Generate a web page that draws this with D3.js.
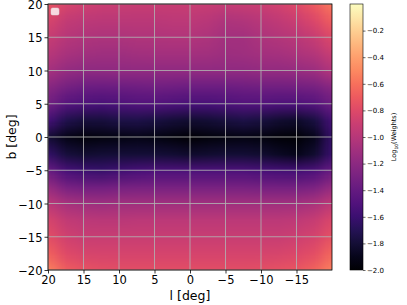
<!DOCTYPE html>
<html><head><meta charset="utf-8">
<script src="https://cdn.jsdelivr.net/npm/d3@7"></script>
<style>body{margin:0;background:#fff;} svg{font-family:"DejaVu Sans",sans-serif;}</style>
</head><body>
<svg id="c" width="407" height="305"></svg>
<script>
// Data
const lValues = [20, 17.5, 15, 12.5, 10, 7.5, 5, 2.5, 0, -2.5, -5, -7.5, -10, -12.5, -15, -17.5, -20];
const bValues = [20, 17.5, 15, 12.5, 10, 7.5, 5, 2.5, 0, -2.5, -5, -7.5, -10, -12.5, -15, -17.5, -20];
const logWeights = [
 [-0.74,-0.84,-0.88,-0.90,-0.91,-0.92,-0.92,-0.92,-0.91,-0.92,-0.93,-0.92,-0.90,-0.86,-0.80,-0.70,-0.56],
 [-0.84,-0.94,-0.97,-0.98,-0.98,-0.98,-0.98,-0.97,-0.97,-0.99,-1.04,-1.03,-0.99,-0.95,-0.90,-0.82,-0.68],
 [-0.92,-1.00,-1.03,-1.04,-1.04,-1.03,-1.03,-1.02,-1.02,-1.04,-1.09,-1.09,-1.04,-1.01,-0.98,-0.92,-0.80],
 [-0.99,-1.07,-1.10,-1.11,-1.11,-1.10,-1.09,-1.09,-1.09,-1.10,-1.12,-1.11,-1.09,-1.08,-1.05,-1.01,-0.91],
 [-1.08,-1.16,-1.19,-1.19,-1.18,-1.18,-1.18,-1.18,-1.18,-1.18,-1.18,-1.18,-1.17,-1.17,-1.15,-1.12,-1.02],
 [-1.22,-1.32,-1.36,-1.37,-1.36,-1.35,-1.34,-1.35,-1.36,-1.36,-1.36,-1.35,-1.34,-1.34,-1.33,-1.31,-1.22],
 [-1.34,-1.48,-1.52,-1.54,-1.52,-1.50,-1.50,-1.52,-1.54,-1.54,-1.52,-1.50,-1.50,-1.52,-1.52,-1.48,-1.36],
 [-1.55,-1.72,-1.78,-1.78,-1.75,-1.74,-1.76,-1.79,-1.82,-1.80,-1.77,-1.75,-1.77,-1.82,-1.84,-1.76,-1.54],
 [-1.80,-1.92,-1.96,-1.94,-1.93,-1.92,-1.93,-1.96,-1.99,-1.96,-1.94,-1.93,-1.94,-1.97,-1.98,-1.90,-1.62],
 [-1.64,-1.78,-1.82,-1.80,-1.79,-1.79,-1.79,-1.81,-1.83,-1.82,-1.80,-1.80,-1.82,-1.86,-1.90,-1.82,-1.60],
 [-1.38,-1.54,-1.60,-1.62,-1.58,-1.54,-1.52,-1.52,-1.52,-1.52,-1.52,-1.52,-1.54,-1.56,-1.57,-1.52,-1.38],
 [-1.15,-1.29,-1.33,-1.33,-1.31,-1.30,-1.30,-1.30,-1.30,-1.30,-1.30,-1.30,-1.31,-1.32,-1.32,-1.28,-1.15],
 [-0.97,-1.07,-1.10,-1.11,-1.10,-1.10,-1.10,-1.10,-1.10,-1.10,-1.10,-1.10,-1.10,-1.10,-1.09,-1.05,-0.95],
 [-0.84,-0.94,-0.97,-0.98,-0.98,-0.97,-0.97,-0.97,-0.97,-0.97,-0.97,-0.97,-0.97,-0.97,-0.96,-0.92,-0.82],
 [-0.77,-0.87,-0.91,-0.91,-0.91,-0.91,-0.91,-0.91,-0.91,-0.91,-0.91,-0.91,-0.91,-0.91,-0.89,-0.85,-0.75],
 [-0.67,-0.80,-0.84,-0.85,-0.85,-0.85,-0.85,-0.85,-0.85,-0.85,-0.85,-0.85,-0.85,-0.84,-0.82,-0.77,-0.64],
 [-0.52,-0.68,-0.74,-0.76,-0.77,-0.77,-0.77,-0.77,-0.77,-0.77,-0.77,-0.77,-0.76,-0.75,-0.72,-0.65,-0.52]
];
const xTicks = [20, 15, 10, 5, 0, -5, -10, -15];
const yTicks = [-20, -15, -10, -5, 0, 5, 10, 15, 20];
const cbTicks = [-2.0, -1.8, -1.6, -1.4, -1.2, -1.0, -0.8, -0.6, -0.4, -0.2];

const svg = d3.select("#c");
const P = {l: 48, r: 332, t: 4, b: 270};
const x = d3.scaleLinear().domain([20, -20]).range([P.l, P.r]);
const y = d3.scaleLinear().domain([-20, 20]).range([P.b, P.t]);
const color = d3.scaleSequential(d3.interpolateMagma).domain([-2, 0]);

// raster
const nC = lValues.length, nR = bValues.length;
const cv = document.createElement("canvas");
cv.width = nC; cv.height = nR;
const ctx = cv.getContext("2d");
logWeights.forEach((row, j) => row.forEach((v, i) => {
  ctx.fillStyle = color(v); ctx.fillRect(i, j, 1, 1);
}));
const dl = (lValues[0] - lValues[1]) / 2, db = (bValues[0] - bValues[1]) / 2;
svg.append("clipPath").attr("id", "clip").append("rect")
  .attr("x", P.l).attr("y", P.t).attr("width", P.r - P.l).attr("height", P.b - P.t);
svg.append("g").attr("clip-path", "url(#clip)").append("image")
  .attr("href", cv.toDataURL())
  .attr("x", x(lValues[0] + dl)).attr("y", y(bValues[0] + db))
  .attr("width", x(lValues[nC - 1] - dl) - x(lValues[0] + dl))
  .attr("height", y(bValues[nR - 1] - db) - y(bValues[0] + db))
  .attr("preserveAspectRatio", "none")
  .style("image-rendering", "auto");

// grid
const grid = svg.append("g").attr("stroke", "#b0b0b0").attr("stroke-opacity", 0.85).attr("stroke-width", 1);
grid.selectAll(".gx").data(xTicks).join("line")
  .attr("x1", d => x(d)).attr("x2", d => x(d)).attr("y1", P.t).attr("y2", P.b);
grid.selectAll(".gy").data(yTicks).join("line")
  .attr("y1", d => y(d)).attr("y2", d => y(d)).attr("x1", P.l).attr("x2", P.r);

// frame
svg.append("rect").attr("x", P.l).attr("y", P.t).attr("width", P.r - P.l).attr("height", P.b - P.t)
  .attr("fill", "none").attr("stroke", "#000").attr("stroke-width", 0.8);

// legend (empty)
svg.append("rect").attr("x", 51).attr("y", 8).attr("width", 8).attr("height", 7).attr("rx", 1.5)
  .attr("fill", "#fff").attr("fill-opacity", 0.8).attr("stroke", "#ddd").attr("stroke-width", 0.5);

// axes
const fmt = d3.format("d");
const xa = svg.append("g").attr("transform", `translate(0,${P.b})`)
  .call(d3.axisBottom(x).tickValues(xTicks).tickFormat(fmt).tickSize(3.5).tickPadding(2));
const ya = svg.append("g").attr("transform", `translate(${P.l},0)`)
  .call(d3.axisLeft(y).tickValues(yTicks).tickFormat(fmt).tickSize(3.5).tickPadding(2));
[xa, ya].forEach(a => {
  a.select(".domain").remove();
  a.selectAll("text").attr("font-size", 11.5).attr("fill", "#000").attr("font-family", "DejaVu Sans");
  a.selectAll("line").attr("stroke", "#000").attr("stroke-width", 0.8);
});
ya.selectAll("text").attr("dy", "0.4em");
svg.append("text").attr("x", (P.l + P.r) / 2).attr("y", 300).attr("text-anchor", "middle")
  .attr("font-size", 12.5).text("l [deg]");
svg.append("text").attr("transform", `translate(15.5,${(P.t + P.b) / 2}) rotate(-90)`)
  .attr("text-anchor", "middle").attr("font-size", 12.5).text("b [deg]");

// colorbar
const cb = {x: 350, w: 13};
const cy = d3.scaleLinear().domain([-2, 0]).range([P.b, P.t]);
const grad = svg.append("defs").append("linearGradient").attr("id", "cbg")
  .attr("x1", 0).attr("y1", 1).attr("x2", 0).attr("y2", 0);
grad.selectAll("stop").data(d3.range(0, 1.0001, 0.05)).join("stop")
  .attr("offset", d => d).attr("stop-color", d => color(-2 + 2 * d));
svg.append("rect").attr("x", cb.x).attr("y", P.t).attr("width", cb.w).attr("height", P.b - P.t)
  .attr("fill", "url(#cbg)").attr("stroke", "#000").attr("stroke-width", 0.6);
const ca = svg.append("g").attr("transform", `translate(${cb.x + cb.w},0)`)
  .call(d3.axisRight(cy).tickValues(cbTicks).tickFormat(d3.format(".1f")).tickSize(2.5).tickPadding(1.5));
ca.select(".domain").remove();
ca.selectAll("text").attr("font-size", 7).attr("fill", "#000").attr("font-family", "DejaVu Sans");
ca.selectAll("line").attr("stroke", "#000").attr("stroke-width", 0.6);
const cl = svg.append("text").attr("transform", `translate(396,${(P.t + P.b) / 2}) rotate(-90)`)
  .attr("text-anchor", "middle").attr("font-size", 6.5);
cl.append("tspan").text("Log");
cl.append("tspan").attr("font-size", 4.5).attr("dy", 1.5).text("10");
cl.append("tspan").attr("dy", -1.5).text("(Weights)");
</script>
</body></html>
